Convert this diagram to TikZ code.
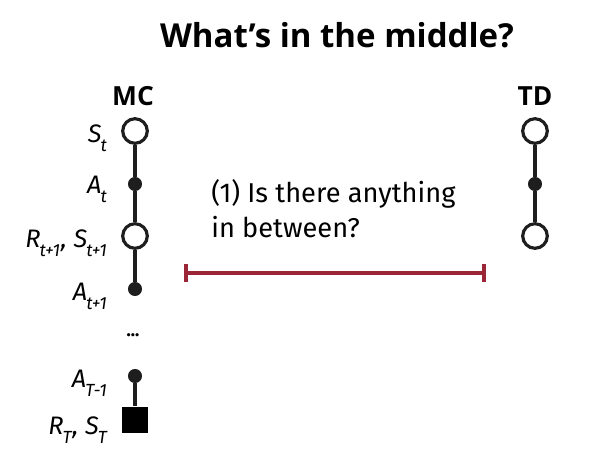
\documentclass[tikz,border=0pt]{standalone}
\usepackage{fontspec}
\setmainfont{Fira Sans}
\newfontfamily\titlefont{Open Sans}
\definecolor{barred}{RGB}{155, 38, 56}
\definecolor{inkdark}{RGB}{30, 30, 30}
\usepackage{tikz}
\usetikzlibrary{arrows.meta}

\newcommand{\lowsub}[1]{\textsubscript{\kern-0.5pt\raisebox{-3pt}{#1}}}

\tikzset{
  statenode/.style={circle, draw=inkdark, line width=1.8pt, fill=white, minimum size=14pt, inner sep=0pt},
  actnode/.style={circle, fill=inkdark, minimum size=8pt, inner sep=0pt},
  termnode/.style={rectangle, fill=black, minimum size=15pt, inner sep=0pt},
  seqlabel/.style={font=\itshape\Large, anchor=east, inner sep=0pt},
  colhead/.style={font=\titlefont\bfseries\fontsize{15}{18}\selectfont},
  link/.style={inkdark, line width=2.2pt}
}

\begin{document}
\begin{tikzpicture}[x=0.02cm, y=-0.02cm]
        \useasboundingbox (0,0) rectangle (602,458);

        \node[font=\titlefont\bfseries\fontsize{18.8}{22}\selectfont] (title) at (337,35) {What’s in the middle?};

        % MC column
        \node[colhead] (mchead) at (133,96) {MC};
        \node[statenode] (s0) at (135,131) {};
        \node[actnode] (a0) at (135,184) {};
        \node[statenode] (s1) at (135,236) {};
        \node[actnode] (a1) at (135,289) {};
        \node[font=\bfseries] (dots) at (133,335) {...};
        \node[actnode] (a2) at (135,376) {};
        \node[termnode] (sT) at (135,420) {};

        \draw[link] (s0) -- (a0) -- (s1) -- (a1);
        \draw[link] (a2) -- (sT);

        \node[seqlabel] (ls0) at (108,138) {S\lowsub{t}};
        \node[seqlabel] (la0) at (108,189) {A\lowsub{t}};
        \node[seqlabel] (ls1) at (108,243) {R\lowsub{t+1}, S\lowsub{t+1}};
        \node[seqlabel] (la1) at (108,296) {A\lowsub{t+1}};
        \node[seqlabel] (la2) at (108,383) {A\lowsub{T-1}};
        \node[seqlabel] (lsT) at (108,430) {R\lowsub{T}, S\lowsub{T}};

        % TD column
        \node[colhead] (tdhead) at (535,96) {TD};
        \node[statenode] (td0) at (535,131) {};
        \node[actnode] (tda) at (535,184) {};
        \node[statenode] (td1) at (535,236) {};
        \draw[link] (td0) -- (tda) -- (td1);

        % question and span
        \node[anchor=north west, align=left, font=\fontsize{15.5}{20}\selectfont, inner sep=0pt] (question) at (211,179)
          {(1) Is there anything\\ in between?};
        \coordinate (barL) at (184,273);
        \coordinate (barR) at (486,273);
        \draw[barred, line width=2.2pt, {Bar[width=10pt]}-{Bar[width=10pt]}] (barL) -- (barR);
      \end{tikzpicture}
\end{document}
